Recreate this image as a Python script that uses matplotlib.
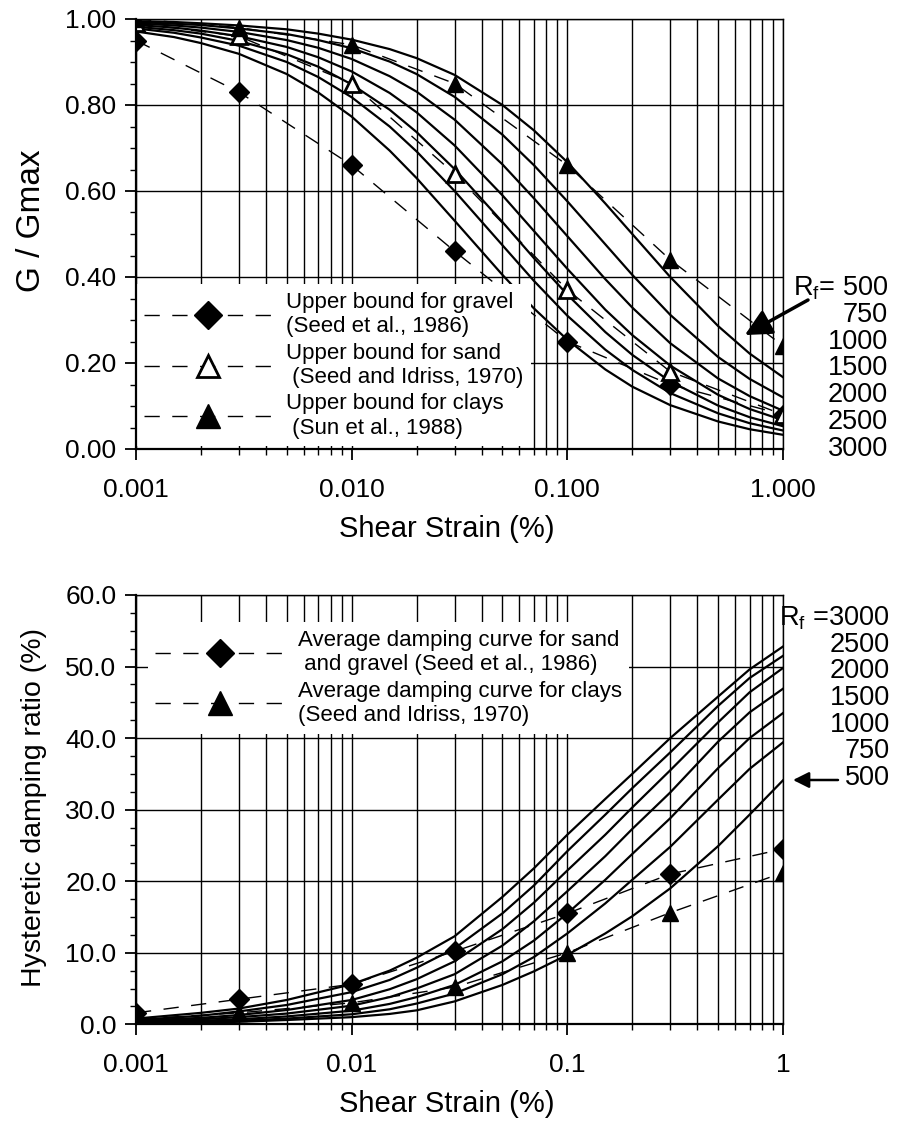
import matplotlib
matplotlib.use("Agg")
import matplotlib.pyplot as plt
from matplotlib.ticker import MultipleLocator, LogLocator, NullFormatter

plt.rcParams['font.family'] = ['Liberation Sans', 'DejaVu Sans']
plt.rcParams['mathtext.fontset'] = 'custom'
plt.rcParams['mathtext.rm'] = 'Liberation Sans'
plt.rcParams['mathtext.it'] = 'Liberation Sans'

# Test points (shear strain in %)
strain = [0.001, 0.003, 0.01, 0.03, 0.1, 0.3, 1.0]

# Modulus reduction bounds
gravel_upper = [0.95, 0.83, 0.66, 0.46, 0.25, 0.15, 0.08]
sand_upper = [0.99, 0.96, 0.85, 0.64, 0.37, 0.18, 0.08]
clay_upper = [1.00, 0.98, 0.94, 0.85, 0.66, 0.44, 0.24]

# Average damping curves
sand_gravel_damping = [1.6, 3.5, 5.6, 10.2, 15.5, 21.0, 24.5]
clay_damping = [0.7, 1.6, 3.0, 5.2, 10.0, 15.6, 21.2]

# Model curves
rf_values = [500, 750, 1000, 1500, 2000, 2500, 3000]

strain_g = [0.001, 0.0015, 0.002, 0.003, 0.005, 0.007, 0.01, 0.015, 0.02, 0.03,
            0.05, 0.07, 0.1, 0.15, 0.2, 0.3, 0.5, 0.7, 1.0]
g_500 = [0.995, 0.993, 0.990, 0.985, 0.976, 0.966, 0.952, 0.930, 0.909, 0.870,
         0.800, 0.741, 0.667, 0.571, 0.500, 0.400, 0.286, 0.222, 0.167]
g_750 = [0.993, 0.989, 0.986, 0.978, 0.965, 0.951, 0.932, 0.901, 0.872, 0.819,
         0.731, 0.660, 0.576, 0.476, 0.405, 0.312, 0.214, 0.163, 0.120]
g_1000 = [0.990, 0.985, 0.980, 0.970, 0.951, 0.933, 0.907, 0.867, 0.831, 0.766,
          0.662, 0.583, 0.495, 0.395, 0.329, 0.246, 0.164, 0.123, 0.089]
g_1500 = [0.986, 0.980, 0.973, 0.960, 0.935, 0.911, 0.878, 0.828, 0.783, 0.706,
          0.590, 0.507, 0.419, 0.324, 0.265, 0.194, 0.126, 0.093, 0.067]
g_2000 = [0.982, 0.974, 0.966, 0.949, 0.918, 0.889, 0.848, 0.789, 0.737, 0.651,
          0.528, 0.444, 0.359, 0.272, 0.219, 0.157, 0.101, 0.074, 0.053]
g_2500 = [0.978, 0.968, 0.957, 0.938, 0.900, 0.865, 0.818, 0.750, 0.692, 0.600,
          0.474, 0.391, 0.310, 0.231, 0.184, 0.130, 0.083, 0.060, 0.043]
g_3000 = [0.971, 0.958, 0.944, 0.919, 0.872, 0.829, 0.773, 0.694, 0.630, 0.531,
          0.405, 0.327, 0.254, 0.185, 0.145, 0.102, 0.064, 0.046, 0.033]

strain_d = [0.001, 0.002, 0.003, 0.005, 0.01, 0.015, 0.02, 0.03, 0.05, 0.07,
            0.1, 0.15, 0.2, 0.3, 0.5, 0.7, 1.0]
d_500 = [0.1, 0.25, 0.35, 0.6, 1.0, 1.45, 1.95, 3.2, 5.5, 7.4,
         9.7, 12.7, 15.1, 19.0, 24.9, 29.3, 34.1]
d_750 = [0.2, 0.4, 0.5, 0.8, 1.4, 2.1, 2.9, 4.3, 7.0, 9.4,
         12.7, 16.9, 20.2, 24.8, 31.4, 35.7, 39.4]
d_1000 = [0.3, 0.5, 0.7, 1.1, 1.9, 2.85, 3.8, 5.5, 8.8, 11.7,
          15.5, 20.2, 23.8, 28.8, 35.8, 40.0, 43.5]
d_1500 = [0.4, 0.7, 1.0, 1.5, 2.6, 3.8, 5.0, 7.0, 11.0, 14.4,
          18.6, 23.5, 27.3, 32.4, 39.5, 43.6, 46.9]
d_2000 = [0.5, 0.9, 1.3, 2.0, 3.4, 4.9, 6.3, 8.8, 13.3, 17.0,
          21.5, 26.5, 30.3, 35.5, 42.2, 46.4, 49.8]
d_2500 = [0.6, 1.2, 1.8, 2.7, 4.5, 6.2, 7.9, 10.6, 15.5, 19.4,
          24.2, 29.3, 33.0, 38.0, 44.5, 48.4, 51.5]
d_3000 = [0.8, 1.6, 2.2, 3.4, 5.6, 7.5, 9.3, 12.3, 17.8, 21.8,
          26.5, 31.5, 35.0, 40.0, 45.8, 49.6, 52.8]

g_curves = [g_500, g_750, g_1000, g_1500, g_2000, g_2500, g_3000]
d_curves = [d_500, d_750, d_1000, d_1500, d_2000, d_2500, d_3000]

W, H = 904, 1122
fig = plt.figure(figsize=(W / 100, H / 100), dpi=100)
ax1 = fig.add_axes([136 / W, 1 - 449 / H, 647 / W, 430 / H])
ax2 = fig.add_axes([136 / W, 1 - 1024.3 / H, 647 / W, 429.3 / H])

DASH = (11, 9)


def style_axis(ax, ymax, ymajor, yminor):
    ax.set_xscale('log')
    ax.set_xlim(0.001, 1)
    ax.set_ylim(0, ymax)
    ax.yaxis.set_major_locator(MultipleLocator(ymajor))
    ax.yaxis.set_minor_locator(MultipleLocator(yminor))
    ax.xaxis.set_minor_locator(LogLocator(base=10, subs=range(2, 10)))
    ax.xaxis.set_minor_formatter(NullFormatter())
    ax.set_axisbelow(True)
    ax.grid(True, which='both', axis='x', color='black', lw=1.0)
    ax.grid(True, which='major', axis='y', color='black', lw=1.0)
    ax.tick_params(which='major', direction='out', length=8, width=1.3,
                   labelsize=19, colors='black')
    ax.tick_params(which='minor', direction='out', length=4, width=1.0)
    ax.tick_params(axis='y', pad=6)
    ax.tick_params(axis='x', which='major', pad=13)
    for side, sp in ax.spines.items():
        sp.set_zorder(6)
        sp.set_linewidth(1.6 if side in ('left', 'bottom') else 1.0)


def legend_box(ax, loc, anchor):
    leg = ax.legend(loc=loc, bbox_to_anchor=anchor, fontsize=16,
                    frameon=True, fancybox=False, edgecolor='none',
                    facecolor='white', framealpha=1, handlelength=5.8,
                    handletextpad=0.6, labelspacing=0.25, borderpad=0.35,
                    borderaxespad=0, markerscale=1.4, numpoints=1)
    leg.set_zorder(5)
    return leg


# ---- top panel: G / Gmax ----
style_axis(ax1, 1.0, 0.2, 0.05)
ax1.set_yticks([0, 0.2, 0.4, 0.6, 0.8, 1.0],
               labels=['0.00', '0.20', '0.40', '0.60', '0.80', '1.00'])
ax1.set_xticks([0.001, 0.01, 0.1, 1.0], labels=['0.001', '0.010', '0.100', '1.000'])

for g in g_curves:
    ax1.plot(strain_g, g, color='black', lw=1.6, zorder=3)

ax1.plot(strain, gravel_upper, color='black', lw=1.0, dashes=DASH, marker='D',
         ms=10, mfc='black', mec='black', zorder=4,
         label='Upper bound for gravel\n(Seed et al., 1986)')
ax1.plot(strain, sand_upper, color='black', lw=1.0, dashes=DASH, marker='^',
         ms=11, mfc='white', mec='black', mew=2, zorder=4,
         label='Upper bound for sand\n (Seed and Idriss, 1970)')
ax1.plot(strain, clay_upper, color='black', lw=1.0, dashes=DASH, marker='^',
         ms=12, mfc='black', mec='black', zorder=4,
         label='Upper bound for clays\n (Sun et al., 1988)')

legend_box(ax1, 'lower left', (0.0, 0.006))

ax1.set_xlabel('Shear Strain (%)', fontsize=21)
ax1.xaxis.set_label_coords(0.48, -0.153)
ax1.set_ylabel('G / Gmax', fontsize=24)
ax1.yaxis.set_label_coords(-0.138, 0.53)

# R_f labels at right of the top panel
for i, rf in enumerate(rf_values):
    s = r'R$_{\mathregular{f}}$= %d' % rf if i == 0 else '%d' % rf
    fig.text(888 / W, 1 - (295 + i * 26.8) / H, s, ha='right', va='baseline',
             fontsize=19.5)
ax1.annotate('', xy=(0.941, 0.265), xycoords='axes fraction',
             xytext=(808 / W, 1 - 300 / H), textcoords='figure fraction',
             arrowprops=dict(arrowstyle='-|>', color='black', lw=2.5,
                             mutation_scale=40, shrinkA=0, shrinkB=0))

# ---- bottom panel: damping ----
style_axis(ax2, 60, 10, 2.5)
ax2.set_yticks([0, 10, 20, 30, 40, 50, 60],
               labels=['0.0', '10.0', '20.0', '30.0', '40.0', '50.0', '60.0'])
ax2.set_xticks([0.001, 0.01, 0.1, 1.0], labels=['0.001', '0.01', '0.1', '1'])

for d in d_curves:
    ax2.plot(strain_d, d, color='black', lw=1.6, zorder=3)

ax2.plot(strain, sand_gravel_damping, color='black', lw=1.0, dashes=DASH,
         marker='D', ms=10, mfc='black', mec='black', zorder=4,
         label='Average damping curve for sand\n and gravel (Seed et al., 1986)')
ax2.plot(strain, clay_damping, color='black', lw=1.0, dashes=DASH,
         marker='^', ms=12, mfc='black', mec='black', zorder=4,
         label='Average damping curve for clays\n(Seed and Idriss, 1970)')

legend_box(ax2, 'upper left', (0.018, 0.937))

ax2.set_xlabel('Shear Strain (%)', fontsize=21)
ax2.xaxis.set_label_coords(0.48, -0.153)
ax2.set_ylabel('Hysteretic damping ratio (%)', fontsize=20.5)
ax2.yaxis.set_label_coords(-0.138, 0.504)

for i, rf in enumerate(rf_values[::-1]):
    s = r'R$_{\mathregular{f}}$ =%d' % rf if i == 0 else '%d' % rf
    fig.text(890 / W, 1 - (625 + i * 26.7) / H, s, ha='right', va='baseline',
             fontsize=19.5)
ax2.annotate('', xy=(793 / W, 1 - 780 / H), xycoords='figure fraction',
             xytext=(838 / W, 1 - 780 / H), textcoords='figure fraction',
             arrowprops=dict(arrowstyle='-|>', color='black', lw=1.8,
                             mutation_scale=24, shrinkA=0, shrinkB=0))

fig.savefig('out.png', dpi=100)
